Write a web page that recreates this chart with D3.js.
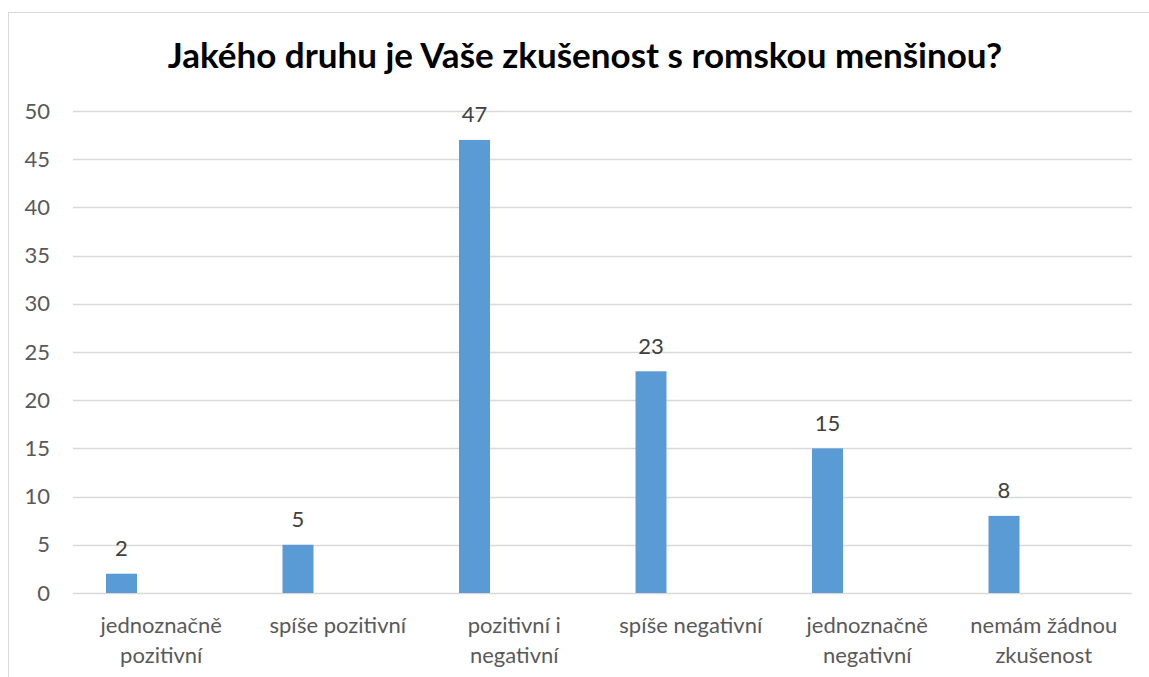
<!DOCTYPE html>
<html><head><meta charset="utf-8">
<script src="https://cdn.jsdelivr.net/npm/d3@7"></script>
<style>body{margin:0;background:#fff}svg{display:block}</style>
</head><body>
<svg id="c" width="1149" height="677"></svg>
<script>
const title = "Jakého druhu je Vaše zkušenost s romskou menšinou?";
const categories = [
  ["jednoznačně", "pozitivní"],
  ["spíše pozitivní"],
  ["pozitivní i", "negativní"],
  ["spíše negativní"],
  ["jednoznačně", "negativní"],
  ["nemám žádnou", "zkušenost"]
];
const values = [2, 5, 47, 23, 15, 8];
const yTicks = [0, 5, 10, 15, 20, 25, 30, 35, 40, 45, 50];

(function () {
const FONT = "Lato, 'Open Sans', sans-serif";
const svg = d3.select("#c");
const W = 1149, H = 677;
const pLeft = 73, pRight = 1132, pTop = 111, pBottom = 593;

svg.append("rect").attr("x", 8.5).attr("y", 12.5).attr("width", W + 20).attr("height", H + 20)
  .attr("fill", "#fff").attr("stroke", "#d9d9d9");

const keys = categories.map((c, i) => i);
const x = d3.scaleBand().domain(keys).range([pLeft, pRight]).padding(0);
const y = d3.scaleLinear().domain([0, 50]).range([pBottom, pTop]);

svg.append("g").selectAll("line").data(yTicks).join("line")
  .attr("x1", pLeft).attr("x2", pRight)
  .attr("y1", d => Math.round(y(d)) + 0.5).attr("y2", d => Math.round(y(d)) + 0.5)
  .attr("stroke", "#d9d9d9").attr("stroke-width", 1.3);

const yAxis = d3.axisLeft(y).tickValues(yTicks).tickSize(0).tickPadding(0);
const gy = svg.append("g").attr("transform", `translate(50,0)`).call(yAxis);
gy.select(".domain").remove();
gy.selectAll("text").attr("font-family", FONT).attr("font-size", 22).attr("fill", "#595959");

const bw = x.bandwidth();
const off = 0.187, wf = 0.1756;
svg.append("g").selectAll("rect").data(values).join("rect")
  .attr("x", (d, i) => x(i) + bw * off)
  .attr("width", bw * wf)
  .attr("y", d => y(d))
  .attr("height", d => y(0) - y(d))
  .attr("fill", "#5b9bd5");

svg.append("g").selectAll("text").data(values).join("text")
  .attr("x", (d, i) => x(i) + bw * off + bw * wf / 2)
  .attr("y", d => y(d) - 17.5)
  .attr("text-anchor", "middle")
  .attr("font-family", FONT).attr("font-size", 22).attr("fill", "#404040")
  .text(d => d);

const gx = svg.append("g");
categories.forEach((lines, i) => {
  const t = gx.append("text").attr("text-anchor", "middle")
    .attr("font-family", FONT).attr("font-size", 22).attr("fill", "#595959");
  lines.forEach((l, j) => {
    t.append("tspan").attr("x", x(i) + bw / 2).attr("y", 633 + j * 29.5).text(l);
  });
});

svg.append("text").attr("x", 585).attr("y", 68).attr("text-anchor", "middle")
  .attr("font-family", FONT).attr("font-weight", "bold").attr("font-size", 35)
  .attr("fill", "#000").text(title);
})();
</script>
</body></html>
